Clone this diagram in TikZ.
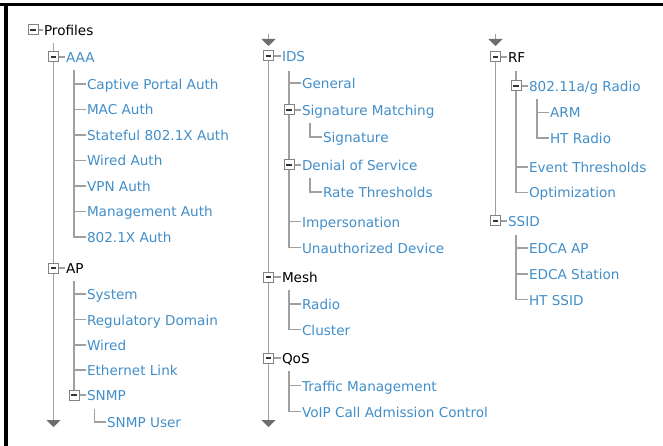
\documentclass[tikz,border=0pt]{standalone}
\usepackage{fontspec}
\setmainfont{DejaVu Sans}
\usetikzlibrary{arrows.meta,backgrounds}
\definecolor{linkblue}{RGB}{66,142,200}
\definecolor{linegray}{RGB}{160,160,160}
\definecolor{boxgray}{RGB}{130,130,130}
\definecolor{arrowgray}{RGB}{110,110,110}
\tikzset{
  lbl/.style={anchor=west,inner sep=0pt,outer sep=1pt,text height=14pt,text depth=3pt,
    font=\fontsize{13.6}{16}\selectfont,text=linkblue},
  lblk/.style={lbl,text=black},
  tgl/.style={draw=boxgray,fill=white,line width=1pt,minimum size=10pt,inner sep=0pt,
    path picture={\draw[black!80,line width=1.6pt]
      ([xshift=-2.6pt]path picture bounding box.center) -- ([xshift=2.6pt]path picture bounding box.center);}},
  tree/.style={draw=linegray,line width=1.3pt},
  contarrow/.style={draw=linegray,line width=1.3pt,-{Triangle[width=14pt,length=7pt,color=arrowgray]}},
}
\begin{document}
\begin{tikzpicture}[x=1pt,y=-1pt]
\useasboundingbox (0,0) rectangle (663,446);
% frame
\fill[black] (0,3) rectangle (663,6.5);
\fill[black] (4,3) rectangle (8,446);

% ---------------- Column 1 ----------------
\node[tgl] (profb) at (33,30) {};
\node[lblk] (prof) at (43,30) {Profiles};
\coordinate (c1s) at (53.5,43);
\coordinate (c1e) at (53.5,427);

\node[tgl] (aaab) at (53.5,57) {};
\node[lbl] (aaa) at (65,57) {AAA};
\coordinate (aaas) at (74,70);
\node[lbl] (a1) at (86,84) {Captive Portal Auth};
\node[lbl] (a2) at (86,109.5) {MAC Auth};
\node[lbl] (a3) at (86,135) {Stateful 802.1X Auth};
\node[lbl] (a4) at (86,160.5) {Wired Auth};
\node[lbl] (a5) at (86,186) {VPN Auth};
\node[lbl] (a6) at (86,211.5) {Management Auth};
\node[lbl] (a7) at (86,237) {802.1X Auth};

\node[tgl] (apb) at (53.5,268) {};
\node[lblk] (ap) at (65,268) {AP};
\coordinate (aps) at (74,281);
\node[lbl] (p1) at (86,294) {System};
\node[lbl] (p2) at (86,319.5) {Regulatory Domain};
\node[lbl] (p3) at (86,345) {Wired};
\node[lbl] (p4) at (86,370) {Ethernet Link};
\node[tgl] (snmpb) at (74,395) {};
\node[lbl] (snmp) at (86,395) {SNMP};
\coordinate (snmps) at (94.5,409);
\node[lbl] (snmpu) at (106,422) {SNMP User};

% ---------------- Column 2 ----------------
\coordinate (c2a) at (268.5,34);
\coordinate (c2b) at (268.5,46);
\coordinate (c2e) at (268.5,427);
\node[tgl] (idsb) at (268.5,56) {};
\node[lbl] (ids) at (281,56) {IDS};
\coordinate (idss) at (289,71);
\node[lbl] (i1) at (301,83) {General};
\node[tgl] (smb) at (289,110) {};
\node[lbl] (sm) at (301,110) {Signature Matching};
\coordinate (sms) at (310,123);
\node[lbl] (sig) at (322,137) {Signature};
\node[tgl] (dosb) at (289,165) {};
\node[lbl] (dos) at (301,165) {Denial of Service};
\coordinate (doss) at (310,178);
\node[lbl] (rt) at (322,192) {Rate Thresholds};
\node[lbl] (i2) at (301,221.5) {Impersonation};
\node[lbl] (i3) at (301,247.5) {Unauthorized Device};

\node[tgl] (meshb) at (268.5,277) {};
\node[lblk] (mesh) at (281,277) {Mesh};
\coordinate (meshs) at (289,290);
\node[lbl] (m1) at (301,304) {Radio};
\node[lbl] (m2) at (301,329.5) {Cluster};

\node[tgl] (qosb) at (268.5,358) {};
\node[lblk] (qos) at (281,358) {QoS};
\coordinate (qoss) at (289,371);
\node[lbl] (q1) at (301,385.5) {Traffic Management};
\node[lbl] (q2) at (301,411.5) {VoIP Call Admission Control};

% ---------------- Column 3 ----------------
\coordinate (c3a) at (495.5,34);
\coordinate (c3b) at (495.5,46);
\node[tgl] (rfb) at (495.5,57) {};
\node[lblk] (rf) at (507,57) {RF};
\coordinate (rfs) at (516,71);
\node[tgl] (radb) at (516,86) {};
\node[lbl] (rad) at (528,86) {802.11a/g Radio};
\coordinate (rads) at (537,99);
\node[lbl] (arm) at (549,112.5) {ARM};
\node[lbl] (htr) at (549,138) {HT Radio};
\node[lbl] (evt) at (528,167) {Event Thresholds};
\node[lbl] (opt) at (528,192.5) {Optimization};

\node[tgl] (ssidb) at (495.5,221) {};
\node[lbl] (ssid) at (507,221) {SSID};
\coordinate (ssids) at (516,235);
\node[lbl] (s1) at (528,248) {EDCA AP};
\node[lbl] (s2) at (528,274) {EDCA Station};
\node[lbl] (s3) at (528,299.5) {HT SSID};

% ---------------- connectors ----------------
\begin{scope}[on background layer]
  % column 1
  \draw[contarrow] (c1s) -- (c1e);
  \draw[tree] (profb.east) -- (prof.west);
  \draw[tree] (aaab.east) -- (aaa.west);
  \foreach \n in {a1,a2,a3,a4,a5,a6,a7} \draw[tree] (aaas) |- (\n.west);
  \draw[tree] (apb.east) -- (ap.west);
  \foreach \n in {p1,p2,p3,p4} \draw[tree] (aps) |- (\n.west);
  \draw[tree] (aps) |- (snmpb.center);
  \draw[tree] (snmpb.east) -- (snmp.west);
  \draw[tree] (snmps) |- (snmpu.west);
  % column 2
  \draw[contarrow] (c2a) -- (c2b);
  \draw[contarrow] (idsb.center) -- (c2e);
  \draw[tree] (idsb.east) -- (ids.west);
  \foreach \n in {i1,i2,i3} \draw[tree] (idss) |- (\n.west);
  \draw[tree] (smb.east) -- (sm.west);
  \draw[tree] (sms) |- (sig.west);
  \draw[tree] (dosb.east) -- (dos.west);
  \draw[tree] (doss) |- (rt.west);
  \draw[tree] (meshb.east) -- (mesh.west);
  \foreach \n in {m1,m2} \draw[tree] (meshs) |- (\n.west);
  \draw[tree] (qosb.east) -- (qos.west);
  \foreach \n in {q1,q2} \draw[tree] (qoss) |- (\n.west);
  % column 3
  \draw[contarrow] (c3a) -- (c3b);
  \draw[tree] (rfb.center) -- (ssidb.center);
  \draw[tree] (rfb.east) -- (rf.west);
  \foreach \n in {evt,opt} \draw[tree] (rfs) |- (\n.west);
  \draw[tree] (radb.east) -- (rad.west);
  \foreach \n in {arm,htr} \draw[tree] (rads) |- (\n.west);
  \draw[tree] (ssidb.east) -- (ssid.west);
  \foreach \n in {s1,s2,s3} \draw[tree] (ssids) |- (\n.west);
\end{scope}
\end{tikzpicture}
\end{document}
